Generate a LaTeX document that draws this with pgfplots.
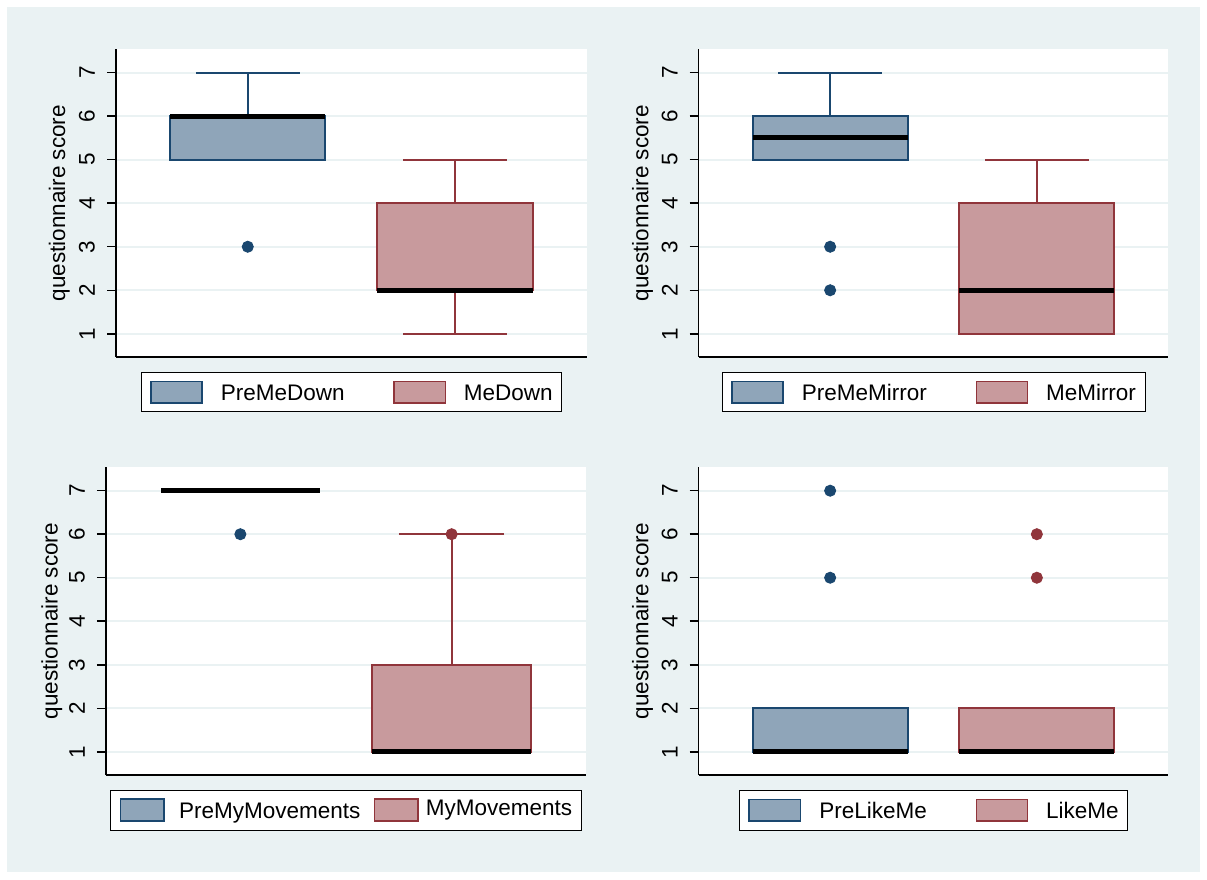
\documentclass[border=0pt]{standalone}
\usepackage{fontspec}
\setmainfont{Liberation Sans}
\usepackage{pgfplots}
\pgfplotsset{compat=1.18}
\usepgfplotslibrary{statistics}
\definecolor{navy}{RGB}{26,71,111}
\definecolor{navyfill}{RGB}{143,165,185}
\definecolor{maroon}{RGB}{144,53,59}
\definecolor{maroonfill}{RGB}{200,154,157}
\definecolor{bgc}{RGB}{234,242,243}
\definecolor{gridc}{RGB}{234,242,243}
\newcommand\fs{\fontsize{22.5}{27}\selectfont}
\pgfplotsset{
  swatch/.style={legend image code/.code={\draw[##1, line width=1.5pt] (0pt,-10.75pt) rectangle (51.3pt,10.75pt);}},
  swatchs/.style={legend image code/.code={\draw[##1, line width=1.5pt] (0pt,-11pt) rectangle (43.3pt,11pt);}},
  panel/.style={
    scale only axis, height=307.7pt,
    xmin=0.364, xmax=2.636, ymin=0.466, ymax=7.538,
    axis background/.style={fill=white},
    axis x line*=bottom, axis y line*=left,
    axis line style={-, line width=1.5pt, black},
    xtick=\empty, ytick={1,2,3,4,5,6,7},
    tick align=outside, major tick length=9pt,
    tick style={line width=1.5pt, black},
    ymajorgrids, grid style={line width=2pt, gridc},
    /pgf/number format/assume math mode=true,
    yticklabel style={rotate=90, anchor=south, inner xsep=0pt, inner ysep=12pt, font=\fs},
    ylabel={questionnaire score},
    every axis y label/.style={at={(axis description cs:-0.12,0.5)}, rotate=90, anchor=center, font=\fs},
    boxplot/draw direction=y,
    boxplot/box extend=0.75, boxplot/whisker extend=0.5,
    boxplot/every median/.style={draw=black, line width=5pt},
    legend columns=2,
    legend cell align=left,
    legend style={at={(0.5,0)}, anchor=north, yshift=-15pt, draw=black, line width=1pt, fill=white,
      inner xsep=9pt, inner ysep=8.25pt, font=\fs,
      nodes={inner sep=0pt, text height=16.1pt, text depth=0pt},
      /tikz/column 1/.style={column sep=18pt},
      /tikz/column 2/.style={column sep=48.8pt},
      /tikz/column 3/.style={column sep=17.6pt}},
    clip=false,
  },
  nplot/.style={draw=navy, fill=navyfill, line width=2pt, mark=*, mark size=5.5pt,
    mark options={solid, draw=navy, fill=navy, line width=1pt}, forget plot},
  mplot/.style={draw=maroon, fill=maroonfill, line width=2pt, mark=*, mark size=5.5pt,
    mark options={solid, draw=maroon, fill=maroon, line width=1pt}, forget plot},
}
\begin{document}
\begin{tikzpicture}
\fill[white] (0pt,0pt) rectangle (1207pt,879pt);
\fill[bgc] (7pt,7pt) rectangle (1200pt,872pt);

% Panel 1
\begin{axis}[panel, at={(116pt,522pt)}, anchor=south west, width=470.7pt,
  every axis y label/.append style={at={(axis description cs:-0.1205,0.5)}}]
\addplot[nplot, boxplot prepared={draw position=1, lower whisker=5, lower quartile=5, median=6, upper quartile=6, upper whisker=7}] coordinates {(1,3)};
\addplot[mplot, boxplot prepared={draw position=2, lower whisker=1, lower quartile=2, median=2, upper quartile=4, upper whisker=5}] coordinates {};
\addlegendimage{swatch, draw=navy, fill=navyfill}
\addlegendentry{PreMeDown}
\addlegendimage{swatch, draw=maroon, fill=maroonfill}
\addlegendentry{MeDown\hspace{6.5pt}}
\end{axis}

% Panel 2
\begin{axis}[panel, at={(698.7pt,522pt)}, anchor=south west, width=469.6pt,
  every axis y label/.append style={at={(axis description cs:-0.1195,0.5)}}]
\addplot[nplot, boxplot prepared={draw position=1, lower whisker=5, lower quartile=5, median=5.5, upper quartile=6, upper whisker=7}] coordinates {(1,3) (1,2)};
\addplot[mplot, boxplot prepared={draw position=2, lower whisker=1, lower quartile=1, median=2, upper quartile=4, upper whisker=5}] coordinates {};
\addlegendimage{swatch, draw=navy, fill=navyfill}
\addlegendentry{PreMeMirror}
\addlegendimage{swatch, draw=maroon, fill=maroonfill}
\addlegendentry{MeMirror\hspace{6pt}}
\end{axis}

% Panel 3
\begin{axis}[panel, at={(106pt,104pt)}, anchor=south west, width=480pt,
  every axis y label/.append style={at={(axis description cs:-0.1131,0.5)}},
  legend style={yshift=0.5pt,
      /tikz/column 1/.style={column sep=14.6pt},
      /tikz/column 2/.style={column sep=13.4pt},
      /tikz/column 3/.style={column sep=7.2pt}}]
\addplot[nplot, boxplot prepared={draw position=1, lower whisker=7, lower quartile=7, median=7, upper quartile=7, upper whisker=7}] coordinates {(1,6)};
\addplot[mplot, boxplot prepared={draw position=2, lower whisker=1, lower quartile=1, median=1, upper quartile=3, upper whisker=6}] coordinates {(2,6)};
\addlegendimage{swatchs, draw=navy, fill=navyfill}
\addlegendentry{PreMyMovements}
\addlegendimage{swatchs, draw=maroon, fill=maroonfill}
\addlegendentry{\raisebox{2.7pt}{MyMovements}\hspace{-9pt}}
\end{axis}

% Panel 4
\begin{axis}[panel, at={(698.7pt,104pt)}, anchor=south west, width=469.6pt,
  every axis y label/.append style={at={(axis description cs:-0.1195,0.5)}}]
\addplot[nplot, boxplot prepared={draw position=1, lower whisker=1, lower quartile=1, median=1, upper quartile=2, upper whisker=2}] coordinates {(1,7) (1,5)};
\addplot[mplot, boxplot prepared={draw position=2, lower whisker=1, lower quartile=1, median=1, upper quartile=2, upper whisker=2}] coordinates {(2,6) (2,5)};
\addlegendimage{swatch, draw=navy, fill=navyfill}
\addlegendentry{PreLikeMe}
\addlegendimage{swatch, draw=maroon, fill=maroonfill}
\addlegendentry{LikeMe\hspace{5pt}}
\end{axis}
\end{tikzpicture}
\end{document}
